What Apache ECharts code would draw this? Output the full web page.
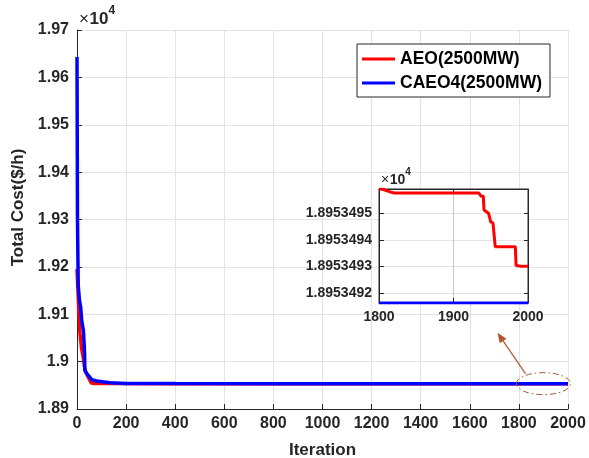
<!DOCTYPE html>
<html>
<head>
<meta charset="utf-8">
<script src="https://cdn.jsdelivr.net/npm/echarts@6/dist/echarts.min.js"></script>
<style>
  html, body { margin: 0; padding: 0; background: #fff; }
  #chart { width: 589px; height: 458px; }
</style>
</head>
<body>
<div id="chart"></div>
<script>
// Convergence curves: total cost ($/h) against iteration
const iterAEO = [0, 3, 8, 12, 18, 25, 30, 38, 48, 58, 70, 150, 400, 1000,
  1800, 1805, 1815, 1820, 1934, 1937, 1940, 1941, 1947, 1949, 1950, 1953, 1955, 1956, 1983, 1984, 1990, 2000];
const costAEO = [19195, 19160, 19100, 19060, 19030, 19010, 18990, 18975, 18965, 18955, 18954, 18953.7, 18953.55, 18953.5,
  18953.49591, 18953.4959, 18953.4958, 18953.49576, 18953.49576, 18953.49564, 18953.49564, 18953.49512,
  18953.495, 18953.495, 18953.49467, 18953.49463, 18953.49463, 18953.49374, 18953.49374, 18953.49303, 18953.493, 18953.493];

const iterCAEO = [0, 2, 5, 10, 15, 19, 26, 29, 31, 32, 40, 46, 60, 80, 135, 200, 400, 800, 1200, 1800, 2000];
const costCAEO = [19643, 19300, 19161, 19130, 19115, 19087, 19066, 19038, 19017, 18981, 18975, 18971, 18962, 18959,
  18955.6, 18953.9, 18953.6, 18953.5, 18953.493, 18953.49162, 18953.49162];

const seriesNames = ['AEO(2500MW)', 'CAEO4(2500MW)'];
const xLabel = 'Iteration';
const yLabel = 'Total Cost($/h)';

// zoomed window
const zoomStart = 1800, zoomEnd = 2000;
const zoomTicks = [18953.492, 18953.493, 18953.494, 18953.495];

const pairs = (xs, ys) => xs.map((x, i) => [x, ys[i]]);
const tail = (xs, ys) => pairs(xs, ys).filter(p => p[0] >= zoomStart);
const aeoTail = tail(iterAEO, costAEO);
const caeoTail = tail(iterCAEO, costCAEO);
const tailVals = aeoTail.concat(caeoTail).map(p => p[1]);
const zoomMin = Math.min.apply(null, tailVals);
const zoomMax = Math.max.apply(null, tailVals);

const RED = '#ff0000', BLUE = '#0000ff';
const INK = '#262626';
const GRIDC = '#e3e3e3';
const FONT = '"Liberation Sans", Arial, Helvetica, sans-serif';

function trimNum(v) {
  let s = (v / 1e4).toFixed(2);
  s = s.replace(/0+$/, '').replace(/\.$/, '');
  return s;
}
const plainNum = v => String(v);

const chart = echarts.init(document.getElementById('chart'), null, { renderer: 'canvas' });

const axisBase = {
  type: 'value',
  axisLine: { show: true, lineStyle: { color: INK, width: 1 } },
  axisTick: { show: true, inside: true, length: 5, lineStyle: { color: INK } },
  splitLine: { show: true, lineStyle: { color: GRIDC, width: 1 } },
  axisLabel: { color: INK, fontWeight: 'bold', fontFamily: FONT }
};
// mirrored axes that close the box of the zoomed view (ticks only)
const mirror = {
  type: 'value',
  axisLine: { show: true, lineStyle: { color: INK, width: 1 } },
  axisTick: { show: true, inside: true, length: 4, lineStyle: { color: INK } },
  splitLine: { show: false },
  axisLabel: { show: false }
};

const option = {
  animation: false,
  backgroundColor: '#fff',
  textStyle: { fontFamily: FONT },
  grid: [
    { left: 77, right: 21, top: 30, bottom: 49, outerBoundsMode: 'none', containLabel: false },
    { left: 379, right: 61, top: 189, bottom: 155, show: true, backgroundColor: '#fff',
      borderColor: INK, borderWidth: 1, z: 10, outerBoundsMode: 'none', containLabel: false }
  ],
  legend: {
    data: seriesNames,
    orient: 'vertical',
    left: 357, top: 44,
    padding: [6, 8, 5, 5],
    itemGap: 6,
    itemWidth: 33, itemHeight: 3,
    icon: 'rect',
    backgroundColor: '#fff',
    borderColor: INK, borderWidth: 1,
    borderRadius: 0,
    textStyle: { fontSize: 17.5, fontWeight: 'bold', color: '#000', fontFamily: FONT },
    z: 20
  },
  xAxis: [
    Object.assign({}, axisBase, {
      gridIndex: 0, min: 0, max: 2000, interval: 200,
      axisLabel: Object.assign({}, axisBase.axisLabel, { fontSize: 16, margin: 7, formatter: plainNum }),
      name: xLabel, nameLocation: 'middle', nameGap: 33,
      nameTextStyle: { fontSize: 17, fontWeight: 'bold', color: INK, fontFamily: FONT }
    }),
    Object.assign({}, axisBase, {
      gridIndex: 1, min: zoomStart, max: zoomEnd, interval: 100, z: 11,
      splitLine: { show: true, lineStyle: { color: '#c8c8c8', width: 1 } },
      axisLabel: Object.assign({}, axisBase.axisLabel, { fontSize: 14, margin: 7, formatter: plainNum })
    }),
    Object.assign({}, mirror, {
      gridIndex: 1, position: 'top', min: zoomStart, max: zoomEnd, interval: 100, z: 11
    })
  ],
  yAxis: [
    Object.assign({}, axisBase, {
      gridIndex: 0, min: 18900, max: 19700, interval: 100,
      axisLabel: Object.assign({}, axisBase.axisLabel, { fontSize: 16, margin: 8, formatter: trimNum }),
      name: yLabel, nameLocation: 'middle', nameGap: 43,
      nameTextStyle: { fontSize: 17, fontWeight: 'bold', color: INK, fontFamily: FONT, padding: [0, 0, 0, 24] }
    }),
    Object.assign({}, axisBase, {
      gridIndex: 1, min: zoomMin, max: zoomMax, z: 11,
      axisTick: Object.assign({}, axisBase.axisTick, { customValues: zoomTicks }),
      axisLabel: Object.assign({}, axisBase.axisLabel, {
        fontSize: 14, margin: 7, customValues: zoomTicks,
        formatter: v => (v / 1e4).toFixed(7)
      })
    }),
    Object.assign({}, mirror, {
      gridIndex: 1, position: 'right', min: zoomMin, max: zoomMax, z: 11,
      axisTick: Object.assign({}, mirror.axisTick, { customValues: zoomTicks }),
      axisLabel: { show: false, customValues: zoomTicks }
    })
  ],
  series: [
    { name: seriesNames[0], type: 'line', xAxisIndex: 0, yAxisIndex: 0, data: pairs(iterAEO, costAEO),
      showSymbol: false, lineStyle: { color: RED, width: 3.5 }, itemStyle: { color: RED }, z: 3 },
    { name: seriesNames[1], type: 'line', xAxisIndex: 0, yAxisIndex: 0, data: pairs(iterCAEO, costCAEO),
      showSymbol: false, lineStyle: { color: BLUE, width: 3.5 }, itemStyle: { color: BLUE }, z: 4 },
    { name: seriesNames[0], type: 'line', xAxisIndex: 1, yAxisIndex: 1, data: aeoTail,
      showSymbol: false, lineStyle: { color: RED, width: 3 }, itemStyle: { color: RED }, z: 12 },
    { name: seriesNames[1], type: 'line', xAxisIndex: 1, yAxisIndex: 1, data: caeoTail,
      showSymbol: false, lineStyle: { color: BLUE, width: 3 }, itemStyle: { color: BLUE }, z: 12 }
  ]
};

chart.setOption(option);

// exponent labels, dashed ellipse around the tail and arrow towards the zoomed view
function drawAnnotations() {
  const mainTop = chart.convertToPixel({ gridIndex: 0 }, [0, 19700]);
  const zoomTop = chart.convertToPixel({ gridIndex: 1 }, [zoomStart, zoomMax]);
  const lastCost = costCAEO[costCAEO.length - 1];
  const c = chart.convertToPixel({ gridIndex: 0 }, [1900, lastCost]);
  const rx = 27, ry = 11;
  const tailPt = [c[0] - 18, c[1] - 10];
  const headPt = [c[0] - 46, c[1] - 51];
  const ang = Math.atan2(headPt[1] - tailPt[1], headPt[0] - tailPt[0]);
  const hl = 10, hw = 4;
  const back = [headPt[0] - hl * Math.cos(ang), headPt[1] - hl * Math.sin(ang)];
  const nx = -Math.sin(ang), ny = Math.cos(ang);
  const ARROW = '#b0562c';

  function exponent(x, y, big, small, z) {
    return [
      { type: 'text', left: x, top: y, z: z,
        style: { text: '\u00d7', fontSize: big, fontWeight: 'normal', fill: INK, fontFamily: FONT } },
      { type: 'text', left: x + big * 0.62, top: y, z: z,
        style: { text: '10', fontSize: big, fontWeight: 'bold', fill: INK, fontFamily: FONT } },
      { type: 'text', left: x + big * 0.62 + big * 1.12, top: y - big * 0.38, z: z,
        style: { text: '4', fontSize: small, fontWeight: 'bold', fill: INK, fontFamily: FONT } }
    ];
  }

  chart.setOption({
    graphic: [].concat(
      exponent(mainTop[0] + 2, mainTop[1] - 19, 17, 12, 30),
      exponent(zoomTop[0] + 2, zoomTop[1] - 16, 14, 10, 30),
      [
        { type: 'ellipse', shape: { cx: c[0], cy: c[1], rx: rx, ry: ry }, z: 30,
          style: { fill: 'none', stroke: ARROW, lineWidth: 1, lineDash: [6, 3, 1.5, 3] } },
        { type: 'line', shape: { x1: tailPt[0], y1: tailPt[1], x2: back[0], y2: back[1] }, z: 30,
          style: { stroke: ARROW, lineWidth: 1.2 } },
        { type: 'polygon', z: 30,
          shape: { points: [headPt, [back[0] + nx * hw, back[1] + ny * hw], [back[0] - nx * hw, back[1] - ny * hw]] },
          style: { fill: ARROW } }
      ]
    )
  });
}
drawAnnotations();
</script>
</body>
</html>
